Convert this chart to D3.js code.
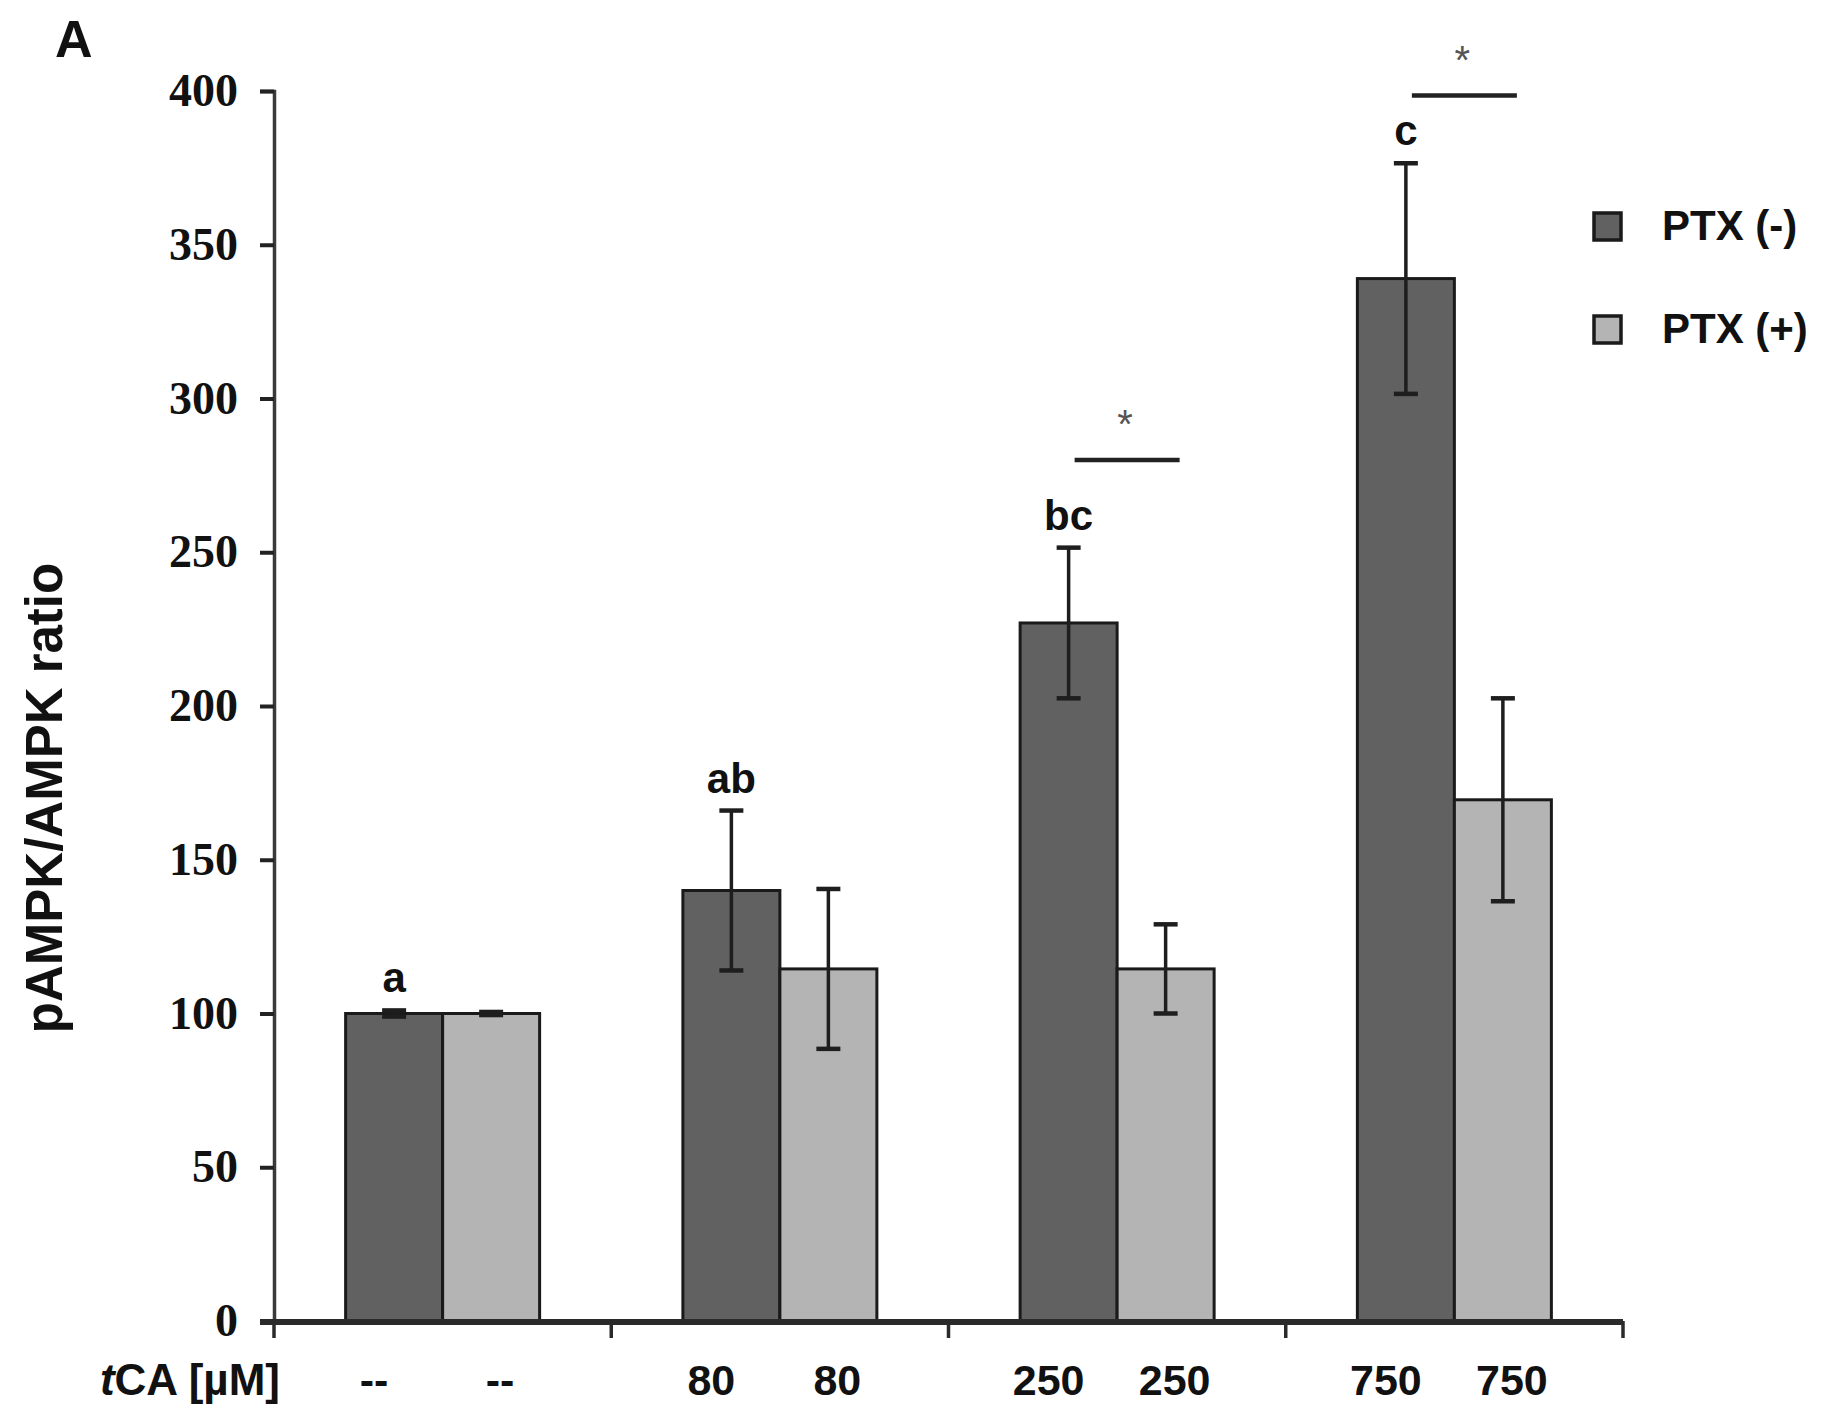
<!DOCTYPE html>
<html>
<head>
<meta charset="utf-8">
<title>pAMPK/AMPK ratio</title>
<script src="https://cdn.jsdelivr.net/npm/d3@7/dist/d3.min.js"></script>
<style>
	body {
		margin: 0;
		background: white;
	}
	.ytick text {
		font-family: "Liberation Serif", serif;
		font-weight: bold;
		font-size: 46px;
		fill: #111;
	}
	.lbl {
		font-family: "Liberation Sans", Arial, sans-serif;
		font-weight: bold;
		fill: #111;
	}
</style>
</head>
<body>
<svg id="chart"></svg>
<script>

	// data
	var groups = [ "--", "80", "250", "750" ],
		series = [ "PTX (-)", "PTX (+)" ],
		ptxNeg = [ 100, 140, 227, 339 ],
		ptxNegErr = [ 1, 26, 24.5, 37.5 ],
		ptxPos = [ 100, 114.5, 114.5, 169.5 ],
		ptxPosErr = [ 0.5, 26, 14.5, 33 ],
		letters = [ "a", "ab", "bc", "c" ],
		sigGroups = [ "250", "750" ],
		sigLevels = [ 280, 398.5 ],
		yTicks = [ 0, 50, 100, 150, 200, 250, 300, 350, 400 ];

	var colors = [ "#616161", "#b4b4b4" ],
		width = 1827,
		height = 1422,
		barW = 97,
		labelShift = [ -20, 9 ]; // tCA labels sit a bit apart from the bar centres

	var svg = d3.select( "#chart" )
		.attr( "width", width )
		.attr( "height", height );

	var y = d3.scaleLinear().domain( [ 0, 400 ] ).range( [ 1321, 91 ] );
	var x0 = d3.scaleBand().domain( groups ).range( [ 274, 1623 ] ).padding( 0 );
	var bw = x0.bandwidth();
	var x1 = d3.scaleBand().domain( series ).range( [ bw / 2 - barW, bw / 2 + barW ] );
	var cx = function( g, s ) { return x0( g ) + x1( s ) + x1.bandwidth() / 2 };

	var rows = groups.map( function( g, i ) {
		return [
			{ group: g, s: series[0], k: 0, v: ptxNeg[i], e: ptxNegErr[i], c: colors[0] },
			{ group: g, s: series[1], k: 1, v: ptxPos[i], e: ptxPosErr[i], c: colors[1] }
		] } );
	var flat = d3.merge( rows );

	// bars
	svg.append( "g" )
		.selectAll( "rect" )
		.data( flat ).enter().append( "rect" )
			.attr( "x", d => x0( d.group ) + x1( d.s ) )
			.attr( "y", d => y( d.v ) )
			.attr( "width", x1.bandwidth() )
			.attr( "height", d => y( 0 ) - y( d.v ) )
			.attr( "fill", d => d.c )
			.attr( "stroke", "#1a1a1a" )
			.attr( "stroke-width", 3 );

	// error bars
	var eb = svg.append( "g" )
		.selectAll( "g" )
		.data( flat ).enter().append( "g" )
			.attr( "transform", d => "translate(" + cx( d.group, d.s ) + ",0)" );
	eb.append( "line" )
		.attr( "y1", d => y( d.v + d.e ) )
		.attr( "y2", d => y( d.v - d.e ) )
		.attr( "stroke", "#1e1e1e" )
		.attr( "stroke-width", 3.5 );
	eb.selectAll( "line.cap" )
		.data( d => [ d.v + d.e, d.v - d.e ] ).enter().append( "line" )
			.attr( "class", "cap" )
			.attr( "x1", -12 ).attr( "x2", 12 )
			.attr( "y1", d => y( d ) ).attr( "y2", d => y( d ) )
			.attr( "stroke", "#1e1e1e" )
			.attr( "stroke-width", 4.5 );

	// letters above PTX(-) bars
	svg.append( "g" )
		.selectAll( "text" )
		.data( rows ).enter().append( "text" )
			.attr( "class", "lbl" )
			.attr( "x", d => cx( d[0].group, series[0] ) )
			.attr( "y", d => y( d[0].v + d[0].e ) - 18 )
			.attr( "text-anchor", "middle" )
			.style( "font-size", "42px" )
			.text( ( d, i ) => letters[i] );

	// significance lines
	var sig = svg.append( "g" )
		.selectAll( "g" )
		.data( sigGroups ).enter().append( "g" );
	sig.append( "line" )
		.attr( "x1", d => cx( d, series[0] ) + 6 )
		.attr( "x2", d => cx( d, series[1] ) + 14 )
		.attr( "y1", ( d, i ) => y( sigLevels[i] ) )
		.attr( "y2", ( d, i ) => y( sigLevels[i] ) )
		.attr( "stroke", "#222" )
		.attr( "stroke-width", 4.5 );
	sig.append( "text" )
		.attr( "x", d => ( cx( d, series[0] ) + cx( d, series[1] ) ) / 2 + 8 )
		.attr( "y", ( d, i ) => y( sigLevels[i] ) - 22 )
		.attr( "text-anchor", "middle" )
		.style( "font-family", "Liberation Sans, Arial, sans-serif" )
		.style( "font-size", "40px" )
		.style( "fill", "#555" )
		.text( "*" );

	// y axis
	var yAxis = svg.append( "g" )
		.attr( "class", "ytick" )
		.attr( "transform", "translate(274,0)" )
		.call( d3.axisLeft( y ).tickValues( yTicks ).tickSize( 14 ).tickPadding( 22 ) );
	yAxis.selectAll( "line" ).attr( "stroke", "#222" ).attr( "stroke-width", 4 );
	yAxis.select( ".domain" ).attr( "stroke", "#3a3a3a" ).attr( "stroke-width", 3.5 );

	// x axis line and group separators
	var xg = svg.append( "g" );
	xg.append( "line" )
		.attr( "x1", 260 ).attr( "x2", x0.range()[1] )
		.attr( "y1", y( 0 ) + 1 ).attr( "y2", y( 0 ) + 1 )
		.attr( "stroke", "#2a2a2a" )
		.attr( "stroke-width", 6 );
	xg.selectAll( "line.sep" )
		.data( groups.map( g => x0( g ) ).concat( [ x0.range()[1] ] ) ).enter().append( "line" )
			.attr( "class", "sep" )
			.attr( "x1", d => d ).attr( "x2", d => d )
			.attr( "y1", y( 0 ) ).attr( "y2", y( 0 ) + 17 )
			.attr( "stroke", "#2a2a2a" )
			.attr( "stroke-width", 3.5 );

	// tCA labels under each bar
	svg.append( "g" )
		.selectAll( "text" )
		.data( flat ).enter().append( "text" )
			.attr( "class", "lbl" )
			.attr( "x", d => cx( d.group, d.s ) + labelShift[d.k] )
			.attr( "y", 1395 )
			.attr( "text-anchor", "middle" )
			.style( "font-size", "43px" )
			.text( d => d.group );

	var tca = svg.append( "text" )
		.attr( "class", "lbl" )
		.attr( "x", 280 )
		.attr( "y", 1395 )
		.attr( "text-anchor", "end" )
		.style( "font-size", "44px" );
	tca.append( "tspan" ).style( "font-style", "italic" ).text( "t" );
	tca.append( "tspan" ).text( "CA [µM]" );

	// y title
	svg.append( "text" )
		.attr( "class", "lbl" )
		.attr( "transform", "translate(62,798) rotate(-90)" )
		.attr( "text-anchor", "middle" )
		.style( "font-size", "51px" )
		.text( "pAMPK/AMPK ratio" );

	// panel letter
	svg.append( "text" )
		.attr( "class", "lbl" )
		.attr( "x", 55 )
		.attr( "y", 57 )
		.style( "font-size", "52px" )
		.text( "A" );

	// legend
	var leg = svg.append( "g" )
		.selectAll( "g" )
		.data( series ).enter().append( "g" )
			.attr( "transform", ( d, i ) => "translate(1594," + ( 213 + i * 103 ) + ")" );
	leg.append( "rect" )
		.attr( "width", 27 )
		.attr( "height", 27 )
		.attr( "fill", ( d, i ) => colors[i] )
		.attr( "stroke", "#1a1a1a" )
		.attr( "stroke-width", 3.5 );
	leg.append( "text" )
		.attr( "class", "lbl" )
		.attr( "x", 68 )
		.attr( "y", 27 )
		.style( "font-size", "42px" )
		.text( d => d );

</script>
</body>
</html>
